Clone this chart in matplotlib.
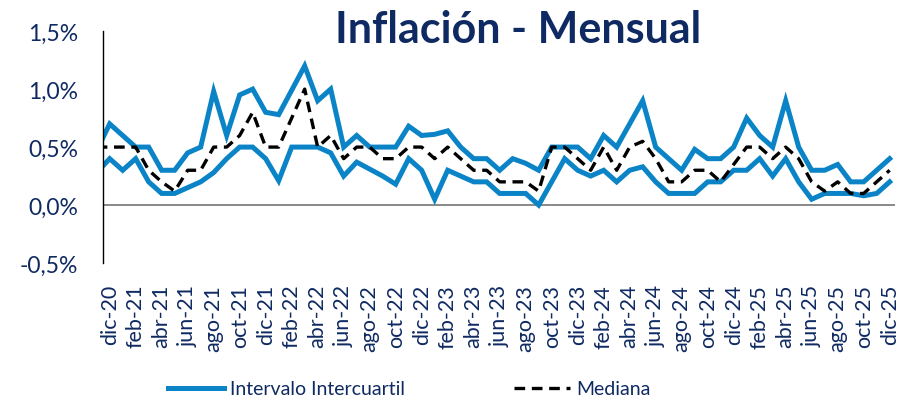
import numpy as np
import matplotlib
matplotlib.use("Agg")
import matplotlib.pyplot as plt
from matplotlib.ticker import FuncFormatter

plt.rcParams['font.family'] = ['Lato', 'DejaVu Sans']

#months from nov-20 to dic-25 (nov-20 sits just left of the axis and gets clipped)
months = ["nov-20", "dic-20",
          "ene-21", "feb-21", "mar-21", "abr-21", "may-21", "jun-21", "jul-21", "ago-21", "sep-21", "oct-21", "nov-21", "dic-21",
          "ene-22", "feb-22", "mar-22", "abr-22", "may-22", "jun-22", "jul-22", "ago-22", "sep-22", "oct-22", "nov-22", "dic-22",
          "ene-23", "feb-23", "mar-23", "abr-23", "may-23", "jun-23", "jul-23", "ago-23", "sep-23", "oct-23", "nov-23", "dic-23",
          "ene-24", "feb-24", "mar-24", "abr-24", "may-24", "jun-24", "jul-24", "ago-24", "sep-24", "oct-24", "nov-24", "dic-24",
          "ene-25", "feb-25", "mar-25", "abr-25", "may-25", "jun-25", "jul-25", "ago-25", "sep-25", "oct-25", "nov-25", "dic-25"]

#upper quartile (%)
p75 = [0.47, 0.70,
       0.60, 0.50, 0.50, 0.30, 0.30, 0.45, 0.50, 0.98, 0.60, 0.95, 1.00, 0.80,
       0.78, 0.99, 1.20, 0.90, 1.00, 0.50, 0.60, 0.50, 0.50, 0.50, 0.68, 0.60,
       0.61, 0.64, 0.50, 0.40, 0.40, 0.30, 0.40, 0.36, 0.30, 0.50, 0.50, 0.50,
       0.40, 0.60, 0.50, 0.70, 0.90, 0.50, 0.40, 0.30, 0.48, 0.40, 0.40, 0.50,
       0.75, 0.60, 0.50, 0.90, 0.50, 0.30, 0.30, 0.35, 0.20, 0.20, 0.30, 0.40]

#lower quartile (%)
p25 = [0.28, 0.40,
       0.30, 0.40, 0.20, 0.10, 0.10, 0.15, 0.20, 0.28, 0.40, 0.50, 0.50, 0.40,
       0.21, 0.50, 0.50, 0.50, 0.45, 0.25, 0.37, 0.31, 0.25, 0.18, 0.40, 0.30,
       0.05, 0.30, 0.25, 0.20, 0.20, 0.10, 0.10, 0.10, 0.00, 0.20, 0.40, 0.30,
       0.25, 0.30, 0.20, 0.30, 0.33, 0.20, 0.10, 0.10, 0.10, 0.20, 0.20, 0.30,
       0.30, 0.40, 0.25, 0.40, 0.20, 0.05, 0.10, 0.10, 0.10, 0.08, 0.10, 0.20]

#median (%)
mediana = [0.50, 0.50,
           0.50, 0.50, 0.30, 0.20, 0.12, 0.30, 0.30, 0.50, 0.50, 0.60, 0.80, 0.50,
           0.50, 0.75, 1.00, 0.50, 0.60, 0.40, 0.50, 0.50, 0.40, 0.40, 0.50, 0.50,
           0.40, 0.50, 0.40, 0.30, 0.30, 0.20, 0.20, 0.20, 0.12, 0.50, 0.50, 0.40,
           0.30, 0.50, 0.30, 0.50, 0.55, 0.40, 0.20, 0.20, 0.30, 0.30, 0.20, 0.35,
           0.50, 0.50, 0.40, 0.50, 0.40, 0.20, 0.12, 0.20, 0.10, 0.10, 0.20, 0.30]

#labels shown on the x axis (every second month)
tick_labels = ["dic-20", "feb-21", "abr-21", "jun-21", "ago-21", "oct-21", "dic-21",
               "feb-22", "abr-22", "jun-22", "ago-22", "oct-22", "dic-22",
               "feb-23", "abr-23", "jun-23", "ago-23", "oct-23", "dic-23",
               "feb-24", "abr-24", "jun-24", "ago-24", "oct-24", "dic-24",
               "feb-25", "abr-25", "jun-25", "ago-25", "oct-25", "dic-25"]

navy = '#0f2a62'
blue = '#0a84c6'

x = np.arange(len(months)) - 1
tick_pos = [months.index(m) - 1 for m in tick_labels]

fig = plt.figure(figsize=(9.03, 4.02), dpi=100)
ax = fig.add_axes([0.1144, 0.3433, 0.8766, 0.5767])

ax.axhline(0, color='#7f7f7f', lw=1.3, zorder=1)
l1, = ax.plot(x, p75, color=blue, lw=3.6, solid_joinstyle='miter', zorder=2)
ax.plot(x, p25, color=blue, lw=3.6, solid_joinstyle='miter', zorder=2)
l2, = ax.plot(x, mediana, color='black', lw=2.4, ls=(0, (3.2, 2.0)), zorder=3)

ax.set_xlim(-0.49, 60.4)
ax.set_ylim(-0.5, 1.5)
ax.set_yticks([-0.5, 0.0, 0.5, 1.0, 1.5])
ax.yaxis.set_major_formatter(FuncFormatter(lambda v, p: f"{v:.1f}%".replace('.', ',')))
ax.set_xticks(tick_pos)
ax.set_xticklabels(tick_labels, rotation=90)

for s in ['top', 'right', 'bottom']:
    ax.spines[s].set_visible(False)
ax.spines['left'].set_color('black')
ax.spines['left'].set_linewidth(1.0)

ax.tick_params(axis='y', length=0, pad=18, labelsize=16.5, labelcolor=navy)
ax.tick_params(axis='x', length=0, pad=15, labelsize=15.5, labelcolor=navy)

fig.text(0.574, 0.925, "Inflación - Mensual", ha='center', va='center',
         fontsize=31, fontweight='bold', color=navy)

leg = fig.legend([l1, l2], ["Intervalo Intercuartil", "Mediana"], loc='center',
                 bbox_to_anchor=(0.453, 0.03), ncol=2, frameon=False, fontsize=14,
                 handlelength=2.9, handletextpad=0.3, columnspacing=5.6)
for t in leg.get_texts():
    t.set_color(navy)

fig.savefig("out.png", dpi=100)
